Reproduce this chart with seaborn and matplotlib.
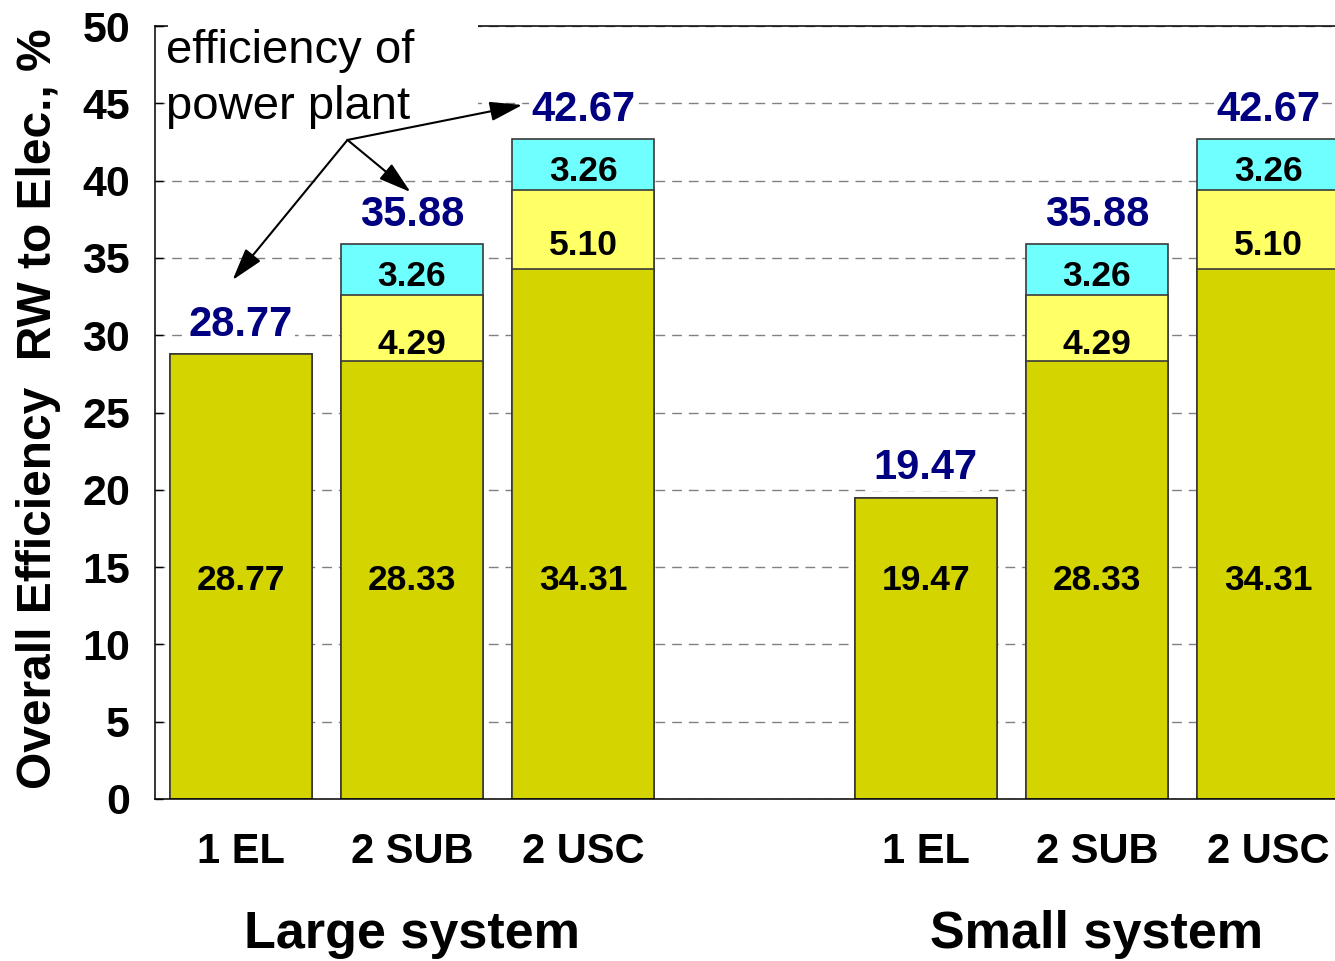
import matplotlib
matplotlib.use("Agg")
import matplotlib.pyplot as plt
import matplotlib.transforms as mtransforms
from matplotlib.patches import Rectangle
import pandas as pd
import seaborn as sns

# ---- data -------------------------------------------------------------
systems = ["Large system", "Small system"]
configs = ["1 EL", "2 SUB", "2 USC"]
base_eff = [28.77, 28.33, 34.31, 19.47, 28.33, 34.31]   # lower segment
mid_gain = [0.00, 4.29, 5.10, 0.00, 4.29, 5.10]         # middle segment
top_gain = [0.00, 3.26, 3.26, 0.00, 3.26, 3.26]         # upper segment
y_ticks = [0, 5, 10, 15, 20, 25, 30, 35, 40, 45, 50]

# ---- styling ----------------------------------------------------------
sns.set_theme(style="white")
plt.rcParams["font.family"] = ["Liberation Sans", "DejaVu Sans"]

OLIVE = "#D4D400"
YELLOW = "#FFFF66"
CYAN = "#70FFFF"
NAVY = "#000080"
EDGE = "#3a3a3a"

keys, sys_col, cfg_col = [], [], []
for s in systems:
    for c in configs:
        keys.append(f"{s}|{c}")
        sys_col.append(s)
        cfg_col.append(c)

df = pd.DataFrame({"key": keys, "system": sys_col, "config": cfg_col,
                   "base": base_eff, "mid": mid_gain, "top": top_gain})
df["upper"] = df["base"] + df["mid"]
df["total"] = df["upper"] + df["top"]

# empty slot between the two groups
order = keys[:3] + ["gap"] + keys[3:]
pos = {k: i for i, k in enumerate(order)}

fig = plt.figure(figsize=(13.35, 9.61), dpi=100)
ax = fig.add_axes([155 / 1335, 1 - 799 / 961, 1180 / 1335, 773 / 961])
ax.set_axisbelow(True)

# stacked bars: draw cumulative heights from the tallest down
for col, colour in [("total", CYAN), ("upper", YELLOW), ("base", OLIVE)]:
    sns.barplot(data=df, x="key", y=col, order=order, color=colour,
                saturation=1, width=0.83, edgecolor=EDGE, linewidth=1.2,
                errorbar=None, ax=ax)

ax.set_ylim(0, 50)
ax.set_xlim(-0.5, 6.39)
ax.set_yticks(y_ticks)
ax.set_yticklabels([str(t) for t in y_ticks], fontsize=31, fontweight="bold")
ax.set_xticks([pos[k] for k in keys])
ax.set_xticklabels(cfg_col, fontsize=30, fontweight="bold")
ax.tick_params(axis="y", left=True, direction="in", length=6, width=1,
               pad=18, colors="black")
ax.tick_params(axis="x", length=0, pad=24, colors="black")
ax.yaxis.grid(True, linestyle=(0, (7, 5)), color="#808080", linewidth=1)
ax.xaxis.grid(False)

for side in ["left", "bottom", "top"]:
    ax.spines[side].set_visible(True)
    ax.spines[side].set_color("black")
    ax.spines[side].set_linewidth(1.1)
ax.spines["right"].set_visible(False)

ax.set_xlabel("")
ax.set_ylabel("Overall Efficiency  RW to Elec., %", fontsize=34.5,
              fontweight="bold", color="black")
ax.yaxis.set_label_coords(-0.0797, 0.505)

# segment labels
BASE_LABEL_Y = 14.15
for _, r in df.iterrows():
    x = pos[r["key"]]
    ax.text(x, BASE_LABEL_Y, f"{r['base']:.2f}", ha="center", va="center",
            fontsize=25.5, fontweight="bold", color="black", zorder=5)
    if r["mid"] > 0:
        ax.text(x, r["base"] + r["mid"] / 2 - 1.05, f"{r['mid']:.2f}",
                ha="center", va="center", fontsize=25.5, fontweight="bold",
                color="black", zorder=5)
    if r["top"] > 0:
        ax.text(x, r["upper"] + r["top"] / 2 - 0.45, f"{r['top']:.2f}",
                ha="center", va="center", fontsize=25.5, fontweight="bold",
                color="black", zorder=5)
    ax.text(x, r["total"] + 1.2, f"{r['total']:.2f}", ha="center",
            va="baseline", fontsize=30, fontweight="bold", color=NAVY,
            zorder=5,
            bbox=dict(facecolor="white", edgecolor="none", pad=1.5))

# group captions under the category labels
blend = mtransforms.blended_transform_factory(ax.transData, fig.transFigure)
for i, s in enumerate(systems):
    centre = pos[keys[3 * i + 1]]
    ax.text(centre, 0.0135, s, transform=blend, ha="center", va="baseline",
            fontsize=37.5, fontweight="bold", color="black")

# callout for the power-plant efficiency
ax.add_patch(Rectangle((0.011, 0.8655), 0.2627, 0.145, transform=ax.transAxes,
                       facecolor="white", edgecolor="none", clip_on=False,
                       zorder=3))
ax.text(0.0095, 0.9961, "efficiency of\npower plant", transform=ax.transAxes,
        ha="left", va="top", fontsize=34, linespacing=1.35, color="black",
        zorder=4)

arrow_from = (0.624, 42.63)
arrow_to = [(-0.047, 33.57), (0.992, 39.26), (1.645, 44.89)]
for tgt in arrow_to:
    ax.annotate("", xy=tgt, xytext=arrow_from,
                arrowprops=dict(arrowstyle="-|>,head_length=1.0,head_width=0.3",
                                mutation_scale=20, color="black", lw=1.5,
                                shrinkA=0, shrinkB=0),
                zorder=6)

fig.savefig("out.png", dpi=100)
